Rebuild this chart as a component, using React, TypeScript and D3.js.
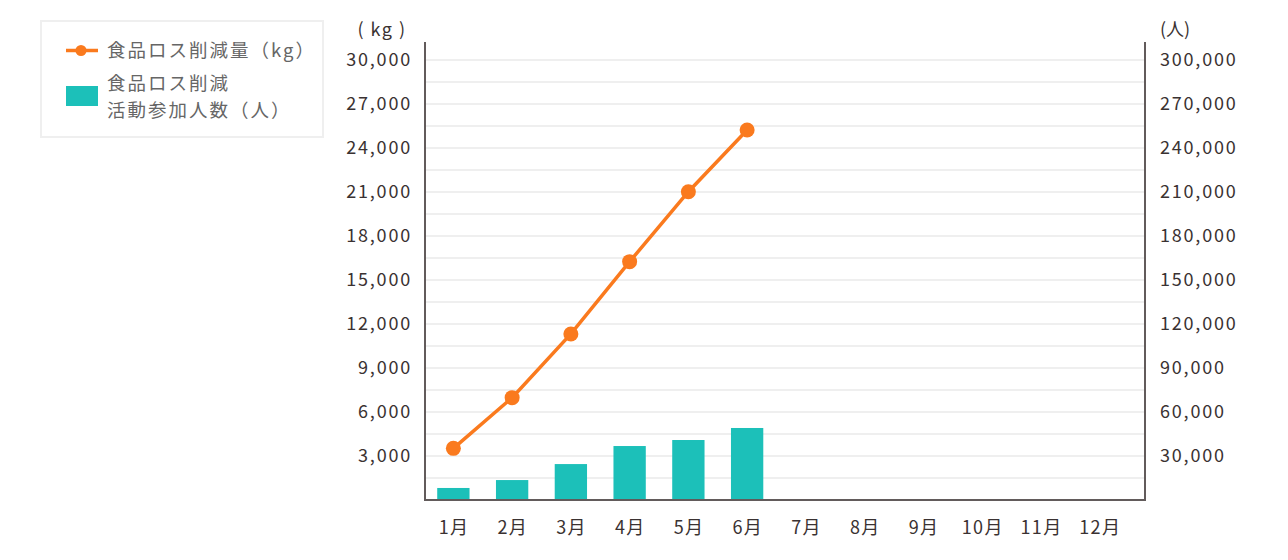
import * as d3 from "d3";
import React from "react";

// months on the x axis
const months = ["1月", "2月", "3月", "4月", "5月", "6月", "7月", "8月", "9月", "10月", "11月", "12月"];
// food loss reduced (kg), left axis
const lossKg = [3520, 6980, 11320, 16250, 21020, 25230];
// participants (people), right axis
const people = [8200, 13600, 24500, 36800, 40900, 49100];
const leftTicks = [3000, 6000, 9000, 12000, 15000, 18000, 21000, 24000, 27000, 30000];
const rightTicks = [30000, 60000, 90000, 120000, 150000, 180000, 210000, 240000, 270000, 300000];
const gridTicks = d3.range(1500, 30001, 1500);

const W = 1288;
const H = 560;
const FONT = "'Noto Sans CJK JP', 'Noto Sans', sans-serif";
const ORANGE = "#fa7a1e";
const TEAL = "#1cc0b9";
const AXIS = "#625b5b";
const TEXT = "#3a3232";

const App: React.FC = () => {
  const plot = { left: 425, right: 1145, top: 42, bottom: 500 };

  // band centers land on 453 + 58.75 * i
  const x = d3.scaleBand<string>().domain(months).range([424, 1129]).paddingInner(0.45).paddingOuter(0.225);
  const yL = d3.scaleLinear().domain([0, 30000]).range([plot.bottom, 60]);
  const yR = d3.scaleLinear().domain([0, 300000]).range([plot.bottom, 60]);
  const cx = (m: string) => (x(m) as number) + x.bandwidth() / 2;

  const line = d3
    .line<number>()
    .x((_, i) => cx(months[i]))
    .y((d) => yL(d));

  const fmt = d3.format(",");

  return (
    <svg width={W} height={H} style={{ position: "absolute", left: 0, top: 0 }} fontFamily={FONT}>
      {/* legend */}
      <rect x={41} y={21} width={282} height={116} fill="#fff" stroke="#efefef" strokeWidth={2} />
      <line x1={66} x2={98} y1={50.5} y2={50.5} stroke={ORANGE} strokeWidth={3.5} />
      <circle cx={81} cy={50.5} r={5.5} fill={ORANGE} />
      <text x={107} y={50.5} dy="0.35em" fontSize={18.5} fill="#666" letterSpacing={2}>
        食品ロス削減量（kg）
      </text>
      <rect x={66} y={86} width={32} height={20} fill={TEAL} />
      <text x={107} y={84} dy="0.35em" fontSize={18.5} fill="#666" letterSpacing={2}>
        食品ロス削減
      </text>
      <text x={107} y={110.5} dy="0.35em" fontSize={18.5} fill="#666" letterSpacing={2}>
        活動参加人数（人）
      </text>

      {/* grid */}
      {gridTicks.map((t) => (
        <line key={t} x1={plot.left} x2={plot.right} y1={yL(t)} y2={yL(t)} stroke="#efefef" strokeWidth={2} />
      ))}

      {/* bars */}
      {people.map((v, i) => (
        <rect
          key={months[i]}
          x={x(months[i])}
          y={yR(v)}
          width={x.bandwidth()}
          height={plot.bottom - yR(v)}
          fill={TEAL}
        />
      ))}

      {/* line */}
      <path d={line(lossKg) as string} fill="none" stroke={ORANGE} strokeWidth={3.5} />
      {lossKg.map((v, i) => (
        <circle key={months[i]} cx={cx(months[i])} cy={yL(v)} r={7.5} fill={ORANGE} />
      ))}

      {/* axes */}
      <line x1={plot.left} x2={plot.left} y1={plot.top} y2={plot.bottom + 1} stroke={AXIS} strokeWidth={2} />
      <line x1={plot.right} x2={plot.right} y1={plot.top} y2={plot.bottom + 1} stroke={AXIS} strokeWidth={2} />
      <line x1={plot.left - 1} x2={plot.right + 1} y1={plot.bottom} y2={plot.bottom} stroke={AXIS} strokeWidth={2} />

      {leftTicks.map((t) => (
        <text key={t} x={412} y={yL(t)} dy="0.35em" textAnchor="end" fontSize={18} fill={TEXT} letterSpacing={1.8}>
          {fmt(t)}
        </text>
      ))}
      {rightTicks.map((t) => (
        <text key={t} x={1160} y={yR(t)} dy="0.35em" fontSize={18} fill={TEXT} letterSpacing={1.8}>
          {fmt(t)}
        </text>
      ))}
      {months.map((m) => (
        <text key={m} x={cx(m) + 0.75} y={528} dy="0.35em" textAnchor="middle" fontSize={18} fill={TEXT} letterSpacing={1.5}>
          {m}
        </text>
      ))}

      <text x={382} y={30} dy="0.35em" textAnchor="middle" fontSize={18} fill={TEXT} letterSpacing={1.5}>
        ( kg )
      </text>
      <text x={1160} y={30} dy="0.35em" fontSize={18} fill={TEXT}>
        (人)
      </text>
    </svg>
  );
};

export default App;
